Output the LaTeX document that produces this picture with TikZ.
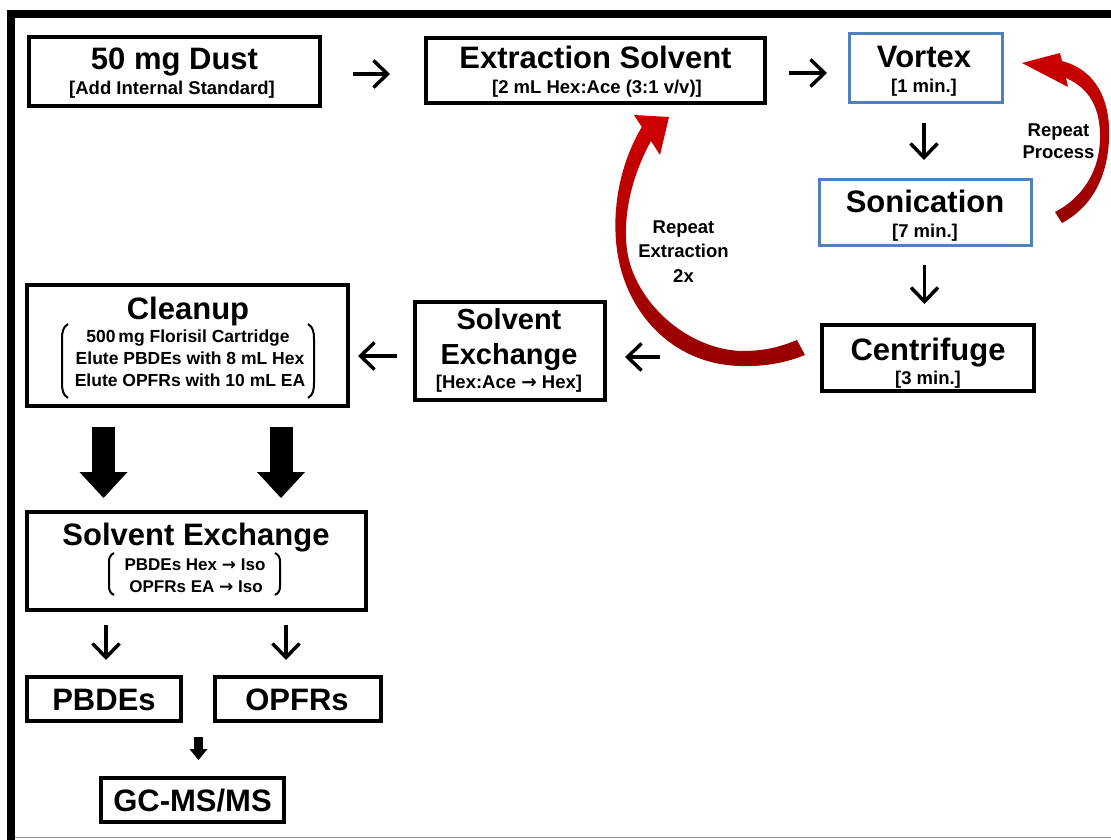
\documentclass[tikz,border=0pt]{standalone}
\usepackage{fontspec}
\setmainfont{Liberation Sans}
\newfontfamily\arrfont{DejaVu Sans}
\newcommand{\rar}{{\arrfont\bfseries →}}
\usetikzlibrary{arrows.meta,calc}
\definecolor{boxblue}{RGB}{79,129,189}
\definecolor{redA}{RGB}{205,0,0}
\definecolor{redB}{RGB}{150,0,0}
\definecolor{framegray}{RGB}{140,140,140}
\begin{document}
\begin{tikzpicture}[x=1pt,y=-1pt,
  bbox/.style={draw=black,line width=4pt,inner sep=0pt},
  ubox/.style={draw=boxblue,line width=3pt,inner sep=0pt},
  ttl/.style={anchor=base,inner sep=0pt,font=\fontsize{31}{35}\selectfont\bfseries},
  ttlb/.style={anchor=base,inner sep=0pt,font=\fontsize{29}{33}\selectfont\bfseries},
  subt/.style={anchor=base,inner sep=0pt,font=\fontsize{18.5}{22}\selectfont\bfseries},
  lst/.style={anchor=base,inner sep=0pt,font=\fontsize{17.5}{20}\selectfont\bfseries},
  lsts/.style={anchor=base,inner sep=0pt,font=\fontsize{17}{20}\selectfont\bfseries},
  rep/.style={anchor=base,inner sep=0pt,font=\fontsize{18.5}{22}\selectfont\bfseries},
  flow/.style={line width=3.5pt,-{Straight Barb[length=14pt,width=27pt]}},
  bigarrow/.style={line width=23pt,-{Triangle[length=26pt,width=48pt,line width=0pt]}},
  smallblock/.style={line width=9pt,-{Triangle[length=11pt,width=18pt,line width=0pt]}},
  brk/.style={line width=2pt},
  redshade/.style={top color=redA,bottom color=redB,draw=none},
]
\useasboundingbox (0,0) rectangle (1111,840);
% frame
\draw[line width=8pt,line join=miter] (1111,14) -- (11,14) -- (11,840);
\draw[framegray,line width=1.5pt] (15,837.5) -- (1111,837.5);

% boxes
\node[bbox,minimum width=291pt,minimum height=69pt] (dust) at (174.5,71.5) {};
\node[bbox,minimum width=339pt,minimum height=65pt] (ext) at (595.5,70.5) {};
\node[ubox,minimum width=153pt,minimum height=69pt] (vortex) at (926,68) {};
\node[ubox,minimum width=212pt,minimum height=66pt] (sonic) at (925.5,212.5) {};
\node[bbox,minimum width=212pt,minimum height=66pt] (centri) at (928,358) {};
\node[bbox,minimum width=190pt,minimum height=98pt] (seA) at (510,351) {};
\node[bbox,minimum width=321pt,minimum height=121pt] (clean) at (187.5,345.5) {};
\node[bbox,minimum width=339pt,minimum height=98pt] (seB) at (196.5,561) {};
\node[bbox,minimum width=154pt,minimum height=44pt] (pbde) at (104,699) {};
\node[bbox,minimum width=166pt,minimum height=44pt] (opfr) at (298,699) {};
\node[bbox,minimum width=183pt,minimum height=44pt] (gc) at (192.5,800) {};

% texts
\node[ttl] (dustT) at (174.5,70) {50 mg Dust};
\node[subt] (dustS) at (172,95) {[Add Internal Standard]};
\node[ttl] (extT) at (595.5,69) {Extraction Solvent};
\node[subt] (extS) at (597,94) {[2 mL Hex:Ace (3:1 v/v)]};
\node[ttl] (vortexT) at (924,68) {Vortex};
\node[subt] (vortexS) at (924,93) {[1 min.]};
\node[ttl] (sonicT) at (925,212) {Sonication};
\node[subt] (sonicS) at (925,237) {[7 min.]};
\node[ttl] (centriT) at (928,360) {Centrifuge};
\node[subt] (centriS) at (928,384) {[3 min.]};
\node[ttlb] (seAT1) at (509,329) {Solvent};
\node[ttlb] (seAT2) at (509,364) {Exchange};
\node[subt] (seAS) at (509,388) {[Hex:Ace \rar{} Hex]};
\node[ttl] (cleanT) at (188,319) {Cleanup};
\node[lst] (cleanL1) at (188,342) {500\,mg Florisil Cartridge};
\node[lst] (cleanL2) at (190,364) {Elute PBDEs with 8 mL Hex};
\node[lst] (cleanL3) at (190,386) {Elute OPFRs with 10 mL EA};
\node[ttl] (seBT) at (196,545) {Solvent Exchange};
\node[lsts] (seBL1) at (195,570) {PBDEs Hex \rar{} Iso};
\node[lsts] (seBL2) at (196,592) {OPFRs EA \rar{} Iso};
\node[ttl] (pbdeT) at (104,710) {PBDEs};
\node[ttl] (opfrT) at (297,710) {OPFRs};
\node[ttl] (gcT) at (192.5,811) {GC-MS/MS};
\node[rep] (rp1) at (1058.5,137) {Repeat};
\node[rep] (rp2) at (1058.5,159) {Process};
\node[rep] (re1) at (683.5,233) {Repeat};
\node[rep] (re2) at (683.5,257) {Extraction};
\node[rep] (re3) at (683.5,282) {2x};

% brackets
\draw[brk] (68,324) .. controls (63,327) and (62,332) .. (62,339) -- (62,383) .. controls (62,390) and (63,395) .. (68,398);
\draw[brk] (308,324) .. controls (313,327) and (314,332) .. (314,339) -- (314,383) .. controls (314,390) and (313,395) .. (308,398);
\draw[brk] (114,553) .. controls (110,555) and (109,558) .. (109,562) -- (109,586) .. controls (109,590) and (110,593) .. (114,595);
\draw[brk] (275,553) .. controls (279,555) and (280,558) .. (280,562) -- (280,586) .. controls (280,590) and (279,593) .. (275,595);

% thin arrows
\draw[flow,shorten <=31pt,shorten >=34pt] ([yshift=-2.5pt]dust.east) -- ([yshift=-3.5pt]ext.west);
\draw[flow,shorten <=22pt,shorten >=21pt] ([yshift=-2.5pt]ext.east) -- ([yshift=-5pt]vortex.west);
\draw[flow,shorten <=19pt,shorten >=18pt] ([xshift=-2pt]vortex.south) -- ([xshift=-1.5pt]sonic.north);
\draw[flow,shorten <=18pt,shorten >=19pt] ([xshift=-1pt]sonic.south) -- ([xshift=-3.5pt]centri.north);
\draw[flow,shorten <=160pt,shorten >=18pt] ([yshift=1pt]centri.west) -- ([yshift=-6pt]seA.east);
\draw[flow,shorten <=16pt,shorten >=8pt] ([yshift=-5pt]seA.west) -- ([yshift=-10.5pt]clean.east);
\draw[flow,shorten <=13pt,shorten >=15pt] ([xshift=-90.5pt]seB.south) -- ([xshift=2pt]pbde.north);
\draw[flow,shorten <=13pt,shorten >=15pt] ([xshift=89.5pt]seB.south) -- ([xshift=-12pt]opfr.north);

% block arrows
\draw[bigarrow,shorten <=19pt,shorten >=12pt] ([xshift=-84pt]clean.south) -- ([xshift=-93pt]seB.north);
\draw[bigarrow,shorten <=19pt,shorten >=12pt] ([xshift=93.5pt]clean.south) -- ([xshift=84.5pt]seB.north);
\coordinate (merge) at ($(pbde.south)!0.5!(opfr.south)+(-2.5,0)$);
\draw[smallblock,shorten <=14pt,shorten >=16pt] (merge) -- (merge |- gc.north);

% red curved arrows
\shade[redshade] (641.8,127) .. controls (622,160) and (611,205) .. (617,250)
  .. controls (625,310) and (670,364) .. (740,366)
  .. controls (765,367) and (788,362) .. (805,355)
  -- (797,340)
  .. controls (775,349) and (760,351) .. (740,351)
  .. controls (684,348) and (634,300) .. (627,250)
  .. controls (622,210) and (635,170) .. (651,141)
  -- (660,155) -- (669,117) -- (634,115) -- cycle;
\shade[redshade] (1062,61) .. controls (1096,70) and (1111,100) .. (1109,140)
  .. controls (1107,180) and (1090,208) .. (1062,223)
  -- (1055,212)
  .. controls (1082,198) and (1099,172) .. (1100,140)
  .. controls (1101,108) and (1089,88) .. (1066,78)
  -- (1068,87) -- (1022,63) -- (1060,53) -- cycle;
\end{tikzpicture}
\end{document}
